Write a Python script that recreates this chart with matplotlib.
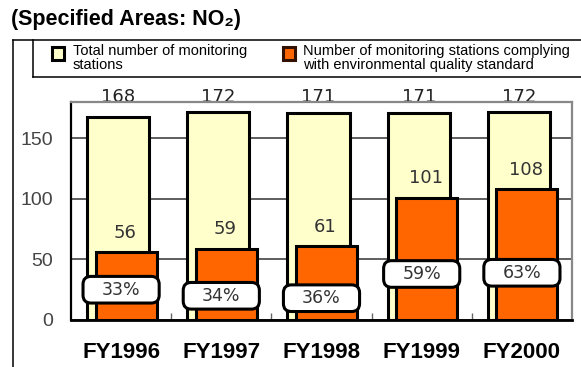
import matplotlib
matplotlib.use('Agg')
import matplotlib.pyplot as plt
from matplotlib.patches import FancyBboxPatch, Rectangle
from matplotlib.lines import Line2D
import matplotlib.transforms as mtransforms

years = ['FY1996', 'FY1997', 'FY1998', 'FY1999', 'FY2000']
total_stations = [168, 172, 171, 171, 172]
complying_stations = [56, 59, 61, 101, 108]
pct_box_y = [25, 20, 18, 38, 39]

YELLOW = '#FFFFCC'
ORANGE = '#FF6600'

plt.rcParams['font.family'] = ['Liberation Sans', 'DejaVu Sans']

fig = plt.figure(figsize=(5.81, 3.67), dpi=100)
W, H = 581, 367


def fx(px):
    return px / W


def fy(py):
    return 1 - py / H


fig.text(fx(11), fy(20), '(Specified Areas: NO\u2082)', fontsize=15.5, fontweight='bold',
         va='center', ha='left')

# outer frame + legend box
for xs, ys in [((13, 13), (40, 367)), ((13, 581), (40, 40)),
               ((33, 33), (40, 77)), ((33, 581), (77, 77))]:
    fig.add_artist(Line2D([fx(x) for x in xs], [fy(y) for y in ys], color='black', lw=1.1))

fig.add_artist(Rectangle((fx(52), fy(60)), fx(12), 13 / H, facecolor=YELLOW,
                         edgecolor='black', lw=2.2))
fig.add_artist(Rectangle((fx(283), fy(60)), fx(12), 13 / H, facecolor=ORANGE,
                         edgecolor='#331100', lw=2.2))
fig.text(fx(73), fy(58), 'Total number of monitoring\nstations', fontsize=10.5,
         va='center', ha='left', linespacing=0.95)
fig.text(fx(303), fy(58), 'Number of monitoring stations complying\nwith environmental quality standard',
         fontsize=10.5, va='center', ha='left', linespacing=0.95)

ax = fig.add_axes([fx(71), 1 - 320 / H, fx(501), (320 - 102) / H])
x = list(range(len(years)))

ax.bar([i - 0.03 for i in x], total_stations, width=0.62, color=YELLOW,
       edgecolor='black', linewidth=2.2, zorder=2)
ax.bar([i + 0.05 for i in x], complying_stations, width=0.61, color=ORANGE,
       edgecolor='black', linewidth=2.2, zorder=3)

ax.set_xlim(-0.5, 4.5)
ax.set_ylim(0, 180)
ax.set_yticks([0, 50, 100, 150])
ax.yaxis.grid(True, color='#333333', lw=1.1, zorder=0)
ax.set_axisbelow(True)
ax.tick_params(axis='y', length=0, pad=13, labelsize=14, labelcolor='#444444')
ax.set_xticks(x)
ax.set_xticklabels(years, fontsize=16, fontweight='bold')
ax.tick_params(axis='x', length=0, pad=16)
ax.set_xticks([0.5, 1.5, 2.5, 3.5], minor=True)
ax.tick_params(axis='x', which='minor', direction='in', length=5, color='#666666', width=1)

for side in ['top', 'right']:
    ax.spines[side].set_color('#888888')
    ax.spines[side].set_linewidth(1.6)
ax.spines['left'].set_linewidth(1.6)
ax.spines['bottom'].set_linewidth(2)

top_trans = mtransforms.blended_transform_factory(ax.transData, ax.transAxes)
for i, (tot, comp) in enumerate(zip(total_stations, complying_stations)):
    ax.text(i - 0.03, 1.0, str(tot), transform=top_trans, ha='center', va='baseline',
            fontsize=13, color='#222222', family='DejaVu Sans',
            clip_on=False, zorder=1)
    ax.text(i + 0.04, comp + 16, str(comp), ha='center', va='center', fontsize=13,
            color='#333333', family='DejaVu Sans', zorder=4)
    pct = round(comp / tot * 100)
    box = FancyBboxPatch((i - 0.38, pct_box_y[i] - 11), 0.76, 22,
                         boxstyle='round,pad=0,rounding_size=0.08',
                         mutation_aspect=82, facecolor='white', edgecolor='black',
                         lw=2.2, zorder=5)
    ax.add_patch(box)
    ax.text(i, pct_box_y[i], f'{pct}%', ha='center', va='center', fontsize=12.5,
            color='#333333', family='DejaVu Sans', zorder=6)

fig.savefig('out.png', dpi=100)
